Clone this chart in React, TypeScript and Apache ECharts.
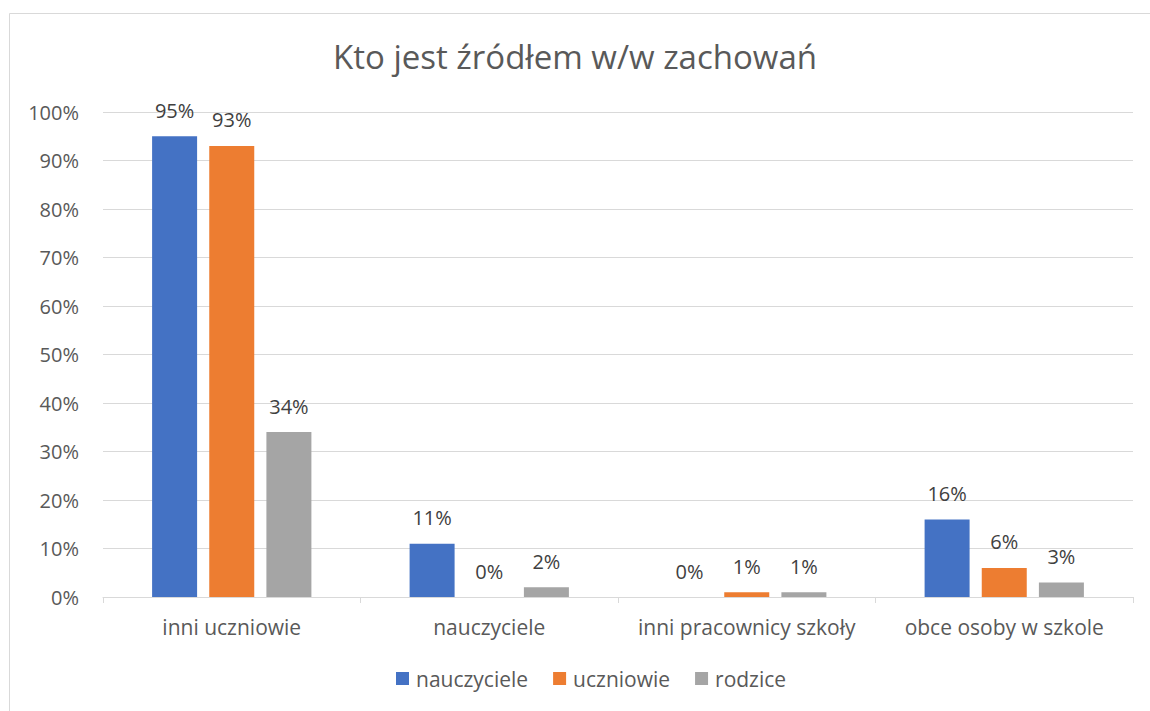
import React, { useEffect, useRef } from "react";
import * as echarts from "echarts";

const categories = ["inni uczniowie", "nauczyciele", "inni pracownicy szkoły", "obce osoby w szkole"];
const seriesNames = ["nauczyciele", "uczniowie", "rodzice"];
const nauczyciele = [95, 11, 0, 16];
const uczniowie = [93, 0, 1, 6];
const rodzice = [34, 2, 1, 3];
const colors = ["#4472C4", "#ED7D31", "#A5A5A5"];

const FONT = "'Open Sans', sans-serif";

export default function App() {
  const ref = useRef<HTMLDivElement>(null);
  useEffect(() => {
    if (!ref.current) return;
    const chart = echarts.init(ref.current, undefined, { renderer: "svg" });
    const values = [nauczyciele, uczniowie, rodzice];
    chart.setOption({
      animation: false,
      backgroundColor: "#ffffff",
      textStyle: { fontFamily: FONT },
      title: {
        text: "Kto jest źródłem w/w zachowań",
        left: "center",
        top: 35,
        textStyle: { fontFamily: FONT, fontSize: 33, fontWeight: "normal", color: "#595959" },
      },
      graphic: [
        {
          type: "rect",
          shape: { x: 9.5, y: 13.5, width: 1160, height: 720 },
          style: { fill: "none", stroke: "#d9d9d9", lineWidth: 1 },
          silent: true,
        },
      ],
      legend: {
        bottom: 17,
        left: 391,
        itemWidth: 13,
        itemHeight: 13,
        itemGap: 25,
        icon: "rect",
        textStyle: { fontFamily: FONT, fontSize: 21, color: "#595959", padding: [0, 0, 0, 2] },
        data: seriesNames,
      },
      grid: { left: 103, right: 17, top: 112, bottom: 114, containLabel: false },
      xAxis: {
        type: "category",
        data: categories,
        axisLine: { lineStyle: { color: "#d9d9d9", width: 1 } },
        axisTick: { show: true, length: 6, lineStyle: { color: "#d9d9d9" } },
        axisLabel: { interval: 0, fontFamily: FONT, fontSize: 21, color: "#595959", margin: 19 },
      },
      yAxis: {
        type: "value",
        min: 0,
        max: 100,
        interval: 10,
        axisLine: { show: false },
        axisTick: { show: false },
        splitLine: { lineStyle: { color: "#d9d9d9", width: 1 } },
        axisLabel: { fontFamily: FONT, fontSize: 20, color: "#595959", margin: 24, formatter: "{value}%" },
      },
      series: seriesNames.map((name, i) => ({
        name,
        type: "bar",
        data: values[i],
        barWidth: 45,
        barGap: "27%",
        itemStyle: { color: colors[i] },
        label: {
          show: true,
          position: "top",
          distance: 16,
          formatter: "{c}%",
          fontFamily: FONT,
          fontSize: 20,
          color: "#404040",
        },
      })),
    });
    return () => chart.dispose();
  }, []);
  return <div ref={ref} style={{ position: "fixed", left: 0, top: 0, width: 1150, height: 711 }} />;
}
